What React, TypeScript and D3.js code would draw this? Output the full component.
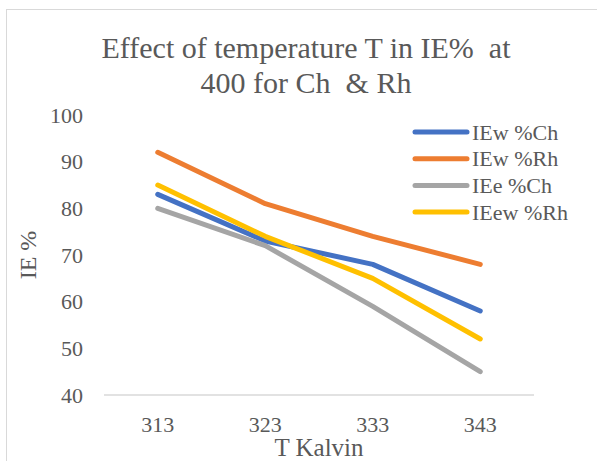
import React, { useEffect, useRef } from 'react';
import * as d3 from 'd3';

const temps = ['313', '323', '333', '343'];
const seriesNames = ['IEw %Ch', 'IEw %Rh', 'IEe %Ch', 'IEew %Rh'];
const ieChW = [83, 73, 68, 58];
const ieRhW = [92, 81, 74, 68];
const ieChE = [80, 72, 59, 45];
const ieRhEW = [85, 74, 65, 52];
const yTicks = [40, 50, 60, 70, 80, 90, 100];
const colors = ['#4472C4', '#ED7D31', '#A5A5A5', '#FFC000'];

const App: React.FC = () => {
  const svgRef = useRef<SVGSVGElement>(null);

  useEffect(() => {
    if (!svgRef.current) return;
    const svg = d3.select(svgRef.current);
    svg.selectAll('*').remove();

    const width = 597;
    const height = 461;
    const font = 'Liberation Serif, Tinos, Times New Roman, serif';
    const textColor = '#595959';

    // chart area border (runs off the right and bottom edge)
    svg.append('rect')
      .attr('x', 6.5).attr('y', 9.5)
      .attr('width', width + 20).attr('height', height + 20)
      .attr('fill', '#fff').attr('stroke', '#d9d9d9').attr('stroke-width', 1);

    const plot = { left: 104, right: 534, top: 115, bottom: 395 };

    const x = d3.scaleBand().domain(temps).range([plot.left, plot.right]);
    const y = d3.scaleLinear().domain([40, 100]).range([plot.bottom, plot.top]);

    // title
    const title = svg.append('text')
      .attr('text-anchor', 'middle')
      .attr('fill', textColor)
      .attr('font-family', font)
      .attr('font-size', 30)
      .style('white-space', 'pre');
    title.append('tspan').attr('x', 306).attr('y', 58).text('Effect of temperature T in IE%  at');
    title.append('tspan').attr('x', 306).attr('y', 93).text('400 for Ch  & Rh');

    // bottom axis line
    svg.append('line')
      .attr('x1', plot.left).attr('x2', plot.right)
      .attr('y1', y(40)).attr('y2', y(40))
      .attr('stroke', '#d9d9d9').attr('stroke-width', 1.5);

    // y tick labels
    svg.append('g').selectAll('text').data(yTicks).join('text')
      .attr('x', 83).attr('y', d => y(d)).attr('dy', '0.35em')
      .attr('text-anchor', 'end')
      .attr('fill', textColor)
      .attr('font-family', font).attr('font-size', 22)
      .text(d => d);

    // x tick labels
    svg.append('g').selectAll('text').data(temps).join('text')
      .attr('x', d => (x(d) as number) + x.bandwidth() / 2).attr('y', 432)
      .attr('text-anchor', 'middle')
      .attr('fill', textColor)
      .attr('font-family', font).attr('font-size', 22)
      .text(d => d);

    // axis titles
    svg.append('text')
      .attr('x', (plot.left + plot.right) / 2).attr('y', 456)
      .attr('text-anchor', 'middle').attr('fill', textColor)
      .attr('font-family', font).attr('font-size', 25)
      .text('T Kalvin');

    svg.append('text')
      .attr('transform', `translate(36,${(plot.top + plot.bottom) / 2}) rotate(-90)`)
      .attr('text-anchor', 'middle').attr('fill', textColor)
      .attr('font-family', font).attr('font-size', 24)
      .text('IE %');

    // lines
    const allSeries = [ieChW, ieRhW, ieChE, ieRhEW];
    const line = d3.line<number>()
      .x((_, i) => (x(temps[i]) as number) + x.bandwidth() / 2)
      .y(d => y(d));

    allSeries.forEach((s, i) => {
      svg.append('path')
        .datum(s)
        .attr('d', line)
        .attr('fill', 'none')
        .attr('stroke', colors[i])
        .attr('stroke-width', 5)
        .attr('stroke-linecap', 'round')
        .attr('stroke-linejoin', 'round');
    });

    // legend
    const legend = svg.append('g');
    seriesNames.forEach((name, i) => {
      const ly = 132 + i * 26.7;
      legend.append('line')
        .attr('x1', 415).attr('x2', 467)
        .attr('y1', ly).attr('y2', ly)
        .attr('stroke', colors[i]).attr('stroke-width', 5)
        .attr('stroke-linecap', 'round');
      legend.append('text')
        .attr('x', 472).attr('y', ly).attr('dy', '0.35em')
        .attr('fill', textColor)
        .attr('font-family', font).attr('font-size', 22)
        .text(name);
    });
  }, []);

  return (
    <svg
      ref={svgRef}
      width={597}
      height={461}
      style={{ position: 'absolute', left: 0, top: 0, background: '#fff' }}
    />
  );
};

export default App;
